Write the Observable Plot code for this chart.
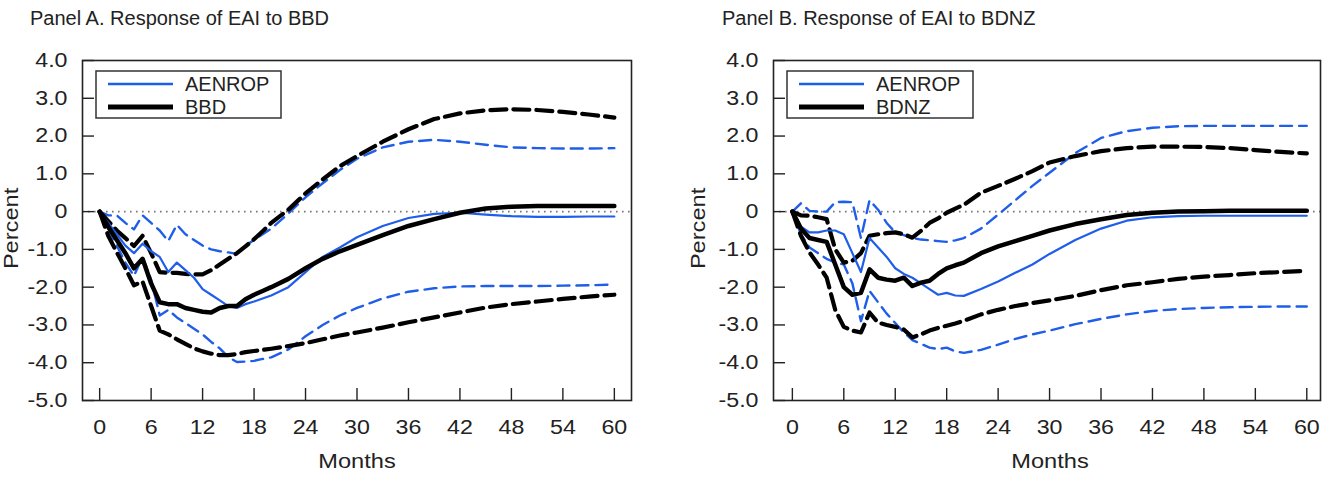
<!DOCTYPE html>
<html><head><meta charset="utf-8">
<script src="https://cdn.jsdelivr.net/npm/d3@7"></script>
<script src="https://cdn.jsdelivr.net/npm/@observablehq/plot@0.6"></script>
<style>
body{margin:0;background:#fff;font-family:"Liberation Sans",Arial,sans-serif;color:#222}
#wrap{position:relative;width:1338px;height:481px;overflow:hidden;background:#fff}
.panel{position:absolute;top:0;width:669px;height:481px}
.panel svg.plot{position:absolute;left:0;top:0}
.title{position:absolute;top:8px;font-size:20px;line-height:20px;white-space:nowrap;color:#222}
.xlab{position:absolute;top:451px;font-size:20px;line-height:20px;white-space:nowrap;transform:translateX(-50%) scaleX(1.18);color:#222}
.ylab{position:absolute;top:194px;height:70px;font-size:20px;line-height:16px;white-space:nowrap;writing-mode:vertical-rl;text-align:center;transform:rotate(180deg) scaleY(1.18);color:#222}
.overlay{position:absolute;top:0;left:0;pointer-events:none}
</style></head>
<body><div id="wrap"></div>
<script>
// ---------- data ----------
const months = [0,1,2,3,4,5,6,7,8,9,10,11,12,13,14,15,16,17,18,19,20,22,24,26,28,30,33,36,39,42,45,48,51,54,57,60];
const xTicks = [0,6,12,18,24,30,36,42,48,54,60];
const yTicks = [-5,-4,-3,-2,-1,0,1,2,3,4];

// Panel A: response of EAI to BBD
const aAenrop   = [0,-0.3,-0.6,-0.9,-1.1,-0.85,-1.05,-1.2,-1.6,-1.35,-1.55,-1.75,-2.05,-2.2,-2.35,-2.5,-2.55,-2.45,-2.38,-2.3,-2.22,-2.0,-1.6,-1.2,-0.95,-0.68,-0.38,-0.17,-0.06,-0.03,-0.08,-0.12,-0.14,-0.14,-0.13,-0.13];
const aAenropHi = [0,-0.1,-0.1,-0.3,-0.47,-0.1,-0.3,-0.5,-0.78,-0.35,-0.6,-0.75,-0.9,-1.0,-1.05,-1.08,-1.12,-0.9,-0.75,-0.6,-0.45,-0.05,0.38,0.75,1.1,1.4,1.7,1.85,1.9,1.85,1.77,1.7,1.68,1.67,1.67,1.68];
const aAenropLo = [0,-0.45,-0.9,-1.35,-1.7,-1.2,-1.8,-2.75,-2.6,-2.8,-2.95,-3.1,-3.25,-3.45,-3.62,-3.85,-3.98,-3.97,-3.95,-3.9,-3.86,-3.65,-3.3,-3.0,-2.75,-2.55,-2.3,-2.12,-2.03,-1.98,-1.97,-1.97,-1.97,-1.96,-1.95,-1.93];
const aBbd      = [0,-0.4,-0.75,-1.1,-1.5,-1.25,-1.9,-2.4,-2.45,-2.45,-2.55,-2.6,-2.65,-2.67,-2.55,-2.5,-2.5,-2.32,-2.2,-2.1,-2.0,-1.78,-1.5,-1.25,-1.05,-0.88,-0.62,-0.38,-0.2,-0.03,0.08,0.13,0.15,0.15,0.15,0.15];
const aBbdHi    = [0,-0.25,-0.5,-0.7,-0.91,-0.64,-1.1,-1.6,-1.62,-1.62,-1.65,-1.66,-1.66,-1.55,-1.4,-1.25,-1.1,-0.92,-0.73,-0.52,-0.3,0.05,0.48,0.85,1.2,1.47,1.85,2.18,2.45,2.6,2.68,2.71,2.69,2.64,2.57,2.49];
const aBbdLo    = [0,-0.64,-1.08,-1.5,-1.95,-1.85,-2.5,-3.15,-3.25,-3.38,-3.5,-3.62,-3.7,-3.76,-3.8,-3.8,-3.77,-3.72,-3.69,-3.66,-3.63,-3.56,-3.48,-3.38,-3.28,-3.2,-3.07,-2.93,-2.8,-2.67,-2.54,-2.45,-2.38,-2.31,-2.25,-2.2];

// Panel B: response of EAI to BDNZ
const bAenrop   = [0,-0.4,-0.55,-0.55,-0.5,-0.5,-0.6,-1.1,-1.6,-0.7,-0.95,-1.2,-1.5,-1.65,-1.75,-1.9,-2.05,-2.2,-2.15,-2.22,-2.23,-2.05,-1.85,-1.62,-1.4,-1.12,-0.75,-0.45,-0.24,-0.15,-0.12,-0.11,-0.11,-0.11,-0.11,-0.11];
const bAenropHi = [0,0.22,0.02,0.0,0.0,0.25,0.26,0.25,-0.7,0.3,0.05,-0.3,-0.55,-0.62,-0.7,-0.74,-0.76,-0.78,-0.8,-0.76,-0.7,-0.45,-0.08,0.3,0.68,1.03,1.55,1.95,2.13,2.22,2.26,2.27,2.27,2.27,2.27,2.27];
const bAenropLo = [0,-0.6,-0.95,-1.1,-1.25,-1.35,-1.4,-1.9,-2.9,-2.1,-2.4,-2.7,-2.95,-3.2,-3.4,-3.5,-3.6,-3.64,-3.6,-3.7,-3.74,-3.66,-3.52,-3.37,-3.25,-3.15,-2.98,-2.84,-2.72,-2.63,-2.58,-2.55,-2.53,-2.52,-2.51,-2.51];
const bBdnz     = [0,-0.45,-0.7,-0.75,-0.8,-1.4,-2.0,-2.2,-2.15,-1.53,-1.75,-1.8,-1.83,-1.75,-1.97,-1.88,-1.83,-1.65,-1.5,-1.42,-1.35,-1.1,-0.92,-0.78,-0.64,-0.5,-0.33,-0.2,-0.09,-0.03,0.0,0.01,0.02,0.02,0.02,0.02];
const bBdnzHi   = [0,-0.1,-0.11,-0.15,-0.2,-1.0,-1.35,-1.3,-1.1,-0.64,-0.6,-0.57,-0.55,-0.6,-0.69,-0.51,-0.3,-0.18,-0.03,0.08,0.18,0.5,0.68,0.87,1.07,1.3,1.47,1.6,1.68,1.72,1.72,1.71,1.68,1.63,1.58,1.54];
const bBdnzLo   = [0,-0.64,-1.08,-1.4,-1.75,-2.6,-3.05,-3.15,-3.2,-2.67,-2.94,-3.0,-3.05,-3.12,-3.33,-3.25,-3.15,-3.08,-3.02,-2.96,-2.89,-2.72,-2.6,-2.5,-2.42,-2.35,-2.23,-2.08,-1.95,-1.87,-1.78,-1.72,-1.68,-1.63,-1.6,-1.57];

const titles = ["Panel A. Response of EAI to BBD", "Panel B. Response of EAI to BDNZ"];
const seriesNames = [["AENROP","BBD"],["AENROP","BDNZ"]];

// ---------- style ----------
const BLUE = "#1f5ee8", BLACK = "#000";
const FONT = "'Liberation Sans', Arial, sans-serif";
const fmtY = d => d === 0 ? "0" : d.toFixed(1);

function makePlot(cfg) {
  const svg = Plot.plot({
    width: 669, height: 481,
    marginLeft: cfg.ml, marginRight: cfg.mr, marginTop: 60, marginBottom: 81,
    style: {fontFamily: FONT, fontSize: "20px", color: "#222", background: "transparent", overflow: "visible"},
    x: {domain: cfg.xd, ticks: []},
    y: {domain: [-5, 4], ticks: []},
    marks: [
      Plot.ruleY([0], {stroke: "#777", strokeWidth: 1.6, strokeDasharray: "1.6,4.4"}),
      Plot.lineY(cfg.bHi, {x: months, stroke: BLUE, strokeWidth: 2.4, strokeDasharray: "12,7"}),
      Plot.lineY(cfg.bLo, {x: months, stroke: BLUE, strokeWidth: 2.4, strokeDasharray: "12,7"}),
      Plot.lineY(cfg.kHi, {x: months, stroke: BLACK, strokeWidth: 4.2, strokeDasharray: "16,7"}),
      Plot.lineY(cfg.kLo, {x: months, stroke: BLACK, strokeWidth: 4.2, strokeDasharray: "16,7"}),
      Plot.lineY(cfg.b, {x: months, stroke: BLUE, strokeWidth: 2.2}),
      Plot.lineY(cfg.k, {x: months, stroke: BLACK, strokeWidth: 4.5}),
      Plot.frame({stroke: "#222", strokeWidth: 1.6}),
      Plot.axisX(xTicks, {tickSize: -12, tickPadding: 31, tickFormat: d => String(d), label: null, stroke: "#222", strokeWidth: 1.4, fill: "#222"}),
      Plot.axisY(yTicks, {tickSize: -12, tickPadding: 27, tickFormat: fmtY, label: null, stroke: "#222", strokeWidth: 1.4, fill: "#222"})
    ]
  });
  // widen tick-label glyphs to match the reference's broader lettering
  svg.querySelectorAll('[aria-label$="tick label"] text').forEach(t => {
    const tr = t.getAttribute("transform") || "";
    t.setAttribute("transform", tr + " scale(1.16,1)");
  });
  return svg;
}

const cfgs = [
  {left: 0, ml: 82, mr: 38, xd: [-2, 62], titleX: 30, k: aBbd, kHi: aBbdHi, kLo: aBbdLo, b: aAenrop, bHi: aAenropHi, bLo: aAenropLo,
   ylabX: 3, xlabX: 357, leg: {x: 96, w: 185}},
  {left: 669, ml: 104, mr: 18, xd: [-2.2, 61.6], titleX: 53, k: bBdnz, kHi: bBdnzHi, kLo: bBdnzLo, b: bAenrop, bHi: bAenropHi, bLo: bAenropLo,
   ylabX: 21, xlabX: 381, leg: {x: 118, w: 186}}
];

const wrap = document.getElementById("wrap");
cfgs.forEach((c, i) => {
  const p = document.createElement("div");
  p.className = "panel";
  p.style.left = c.left + "px";
  const svg = makePlot(c);
  svg.classList.add("plot");
  p.appendChild(svg);

  const t = document.createElement("div");
  t.className = "title"; t.style.left = c.titleX + "px"; t.textContent = titles[i];
  p.appendChild(t);

  const xl = document.createElement("div");
  xl.className = "xlab"; xl.style.left = c.xlabX + "px"; xl.textContent = "Months";
  p.appendChild(xl);

  const yl = document.createElement("div");
  yl.className = "ylab"; yl.style.left = c.ylabX + "px"; yl.textContent = "Percent";
  p.appendChild(yl);

  // legend overlay
  const ns = "http://www.w3.org/2000/svg";
  const lg = document.createElementNS(ns, "svg");
  lg.setAttribute("class", "overlay");
  lg.setAttribute("width", 669); lg.setAttribute("height", 140);
  const x0 = c.leg.x;
  lg.innerHTML =
    `<rect x="${x0}" y="71" width="${c.leg.w}" height="47" fill="#fff" stroke="#333" stroke-width="1.5"/>` +
    `<line x1="${x0+12}" x2="${x0+77}" y1="84" y2="84" stroke="${BLUE}" stroke-width="2.4"/>` +
    `<line x1="${x0+12}" x2="${x0+77}" y1="107" y2="107" stroke="${BLACK}" stroke-width="5"/>` +
    `<text x="${x0+89}" y="91" font-family="${FONT}" font-size="20" fill="#222">${seriesNames[i][0]}</text>` +
    `<text x="${x0+89}" y="114" font-family="${FONT}" font-size="20" fill="#222">${seriesNames[i][1]}</text>`;
  p.appendChild(lg);
  wrap.appendChild(p);
});
</script>
</body></html>
